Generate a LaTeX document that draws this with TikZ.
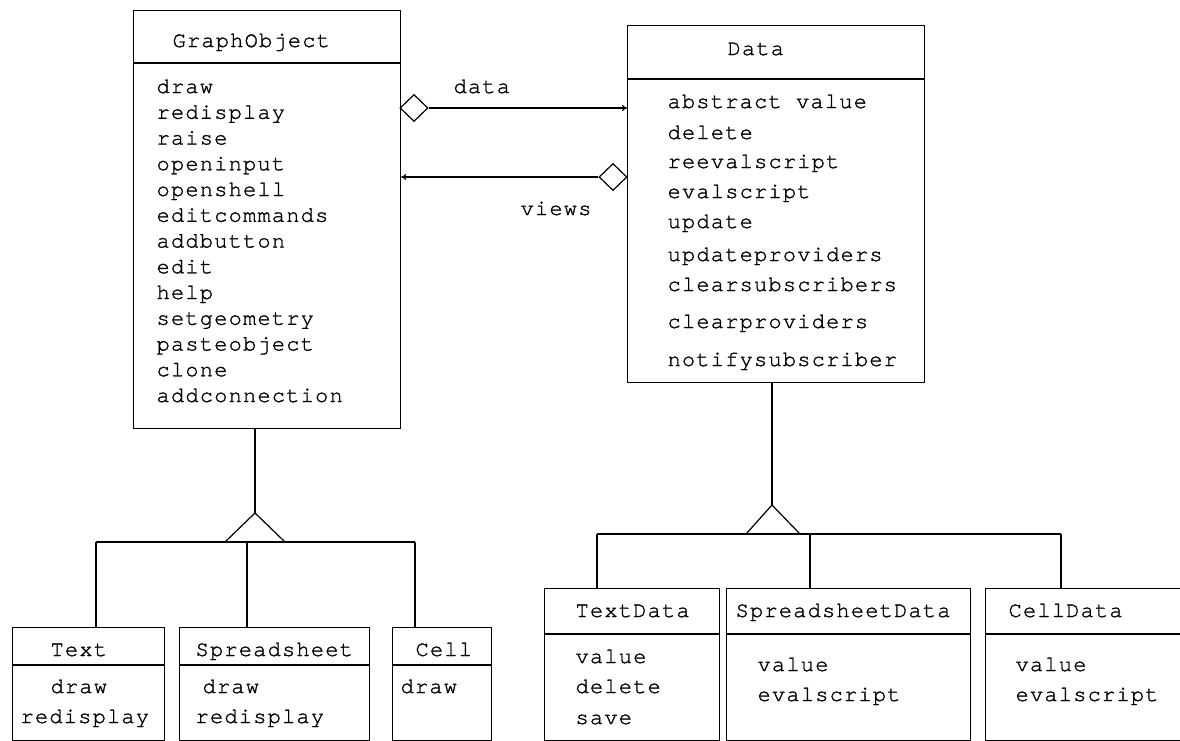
\documentclass[tikz,border=0pt]{standalone}
\usepackage{fontspec}
\usetikzlibrary{shapes.geometric,arrows.meta}
\newfontfamily\cour{texgyrecursor-regular.otf}[LetterSpace=5.5,FakeBold=1.2]
\newcommand\clsfont{\cour\fontsize{22}{26}\selectfont}
\begin{document}
\begin{tikzpicture}[x=1pt,y=-1pt,line width=1.2pt,
  txt/.style={anchor=base west,inner sep=0pt,font=\clsfont},
  cls/.style={draw,anchor=north west,inner sep=0pt},
  agg/.style={draw,shape=diamond,fill=white,inner sep=0pt,minimum width=28pt,minimum height=27pt},
  arr/.style={-{To[length=5pt,width=6pt]}}]
\useasboundingbox (0,0) rectangle (1180,740);
\clip (0,0) rectangle (1180,740);
% class boxes
\node[cls,minimum width=267pt,minimum height=418pt] (go) at (133,10) {};
\node[cls,minimum width=297pt,minimum height=357pt] (da) at (627,25) {};
\node[cls,minimum width=152pt,minimum height=113pt] (tx) at (12,627) {};
\node[cls,minimum width=190pt,minimum height=113pt] (ss) at (179,627) {};
\node[cls,minimum width=99pt,minimum height=113pt] (ce) at (392,627) {};
\node[cls,minimum width=175pt,minimum height=152pt] (td) at (544,588) {};
\node[cls,minimum width=244pt,minimum height=152pt] (sd) at (726,588) {};
\node[cls,minimum width=210pt,minimum height=152pt] (cd) at (985,588) {};
% header lines
\draw (go.west |- 0,63) -- (go.east |- 0,63);
\draw (da.west |- 0,79) -- (da.east |- 0,79);
\foreach \b in {tx,ss,ce} \draw (\b.west |- 0,665) -- (\b.east |- 0,665);
\foreach \b in {td,sd,cd} \draw (\b.west |- 0,634) -- (\b.east |- 0,634);
% titles
\node[txt] (got) at (172,47) {GraphObject};
\node[txt] (dat) at (727,55) {Data};
\node[txt] (txt) at (50,656) {Text};
\node[txt] (sst) at (195,656) {Spreadsheet};
\node[txt] (cet) at (415,656) {Cell};
\node[txt] (tdt) at (575,617) {TextData};
\node[txt] (sdt) at (735,617) {SpreadsheetData};
\node[txt] (cdt) at (1008,617) {CellData};
% GraphObject methods
\foreach \m [count=\i from 0] in {draw,redisplay,raise,openinput,openshell,editcommands,addbutton,edit,help,setgeometry,pasteobject,clone,addconnection}
  \node[txt] (gom\i) at (156,{93+25.75*\i}) {\m};
% Data methods
\foreach \m/\y [count=\i] in {abstract value/108,delete/139,reevalscript/168,evalscript/198,update/228,updateproviders/261,clearsubscribers/291,clearproviders/328,notifysubscriber/366}
  \node[txt] (dam\i) at (667,\y) {\m};
% subclass methods
\node[txt] (txm1) at (50,693) {draw};
\node[txt] (txm2) at (20,723) {redisplay};
\node[txt] (ssm1) at (202,693) {draw};
\node[txt] (ssm2) at (195,723) {redisplay};
\node[txt] (cem1) at (400,693) {draw};
\node[txt] (tdm1) at (575,663) {value};
\node[txt] (tdm2) at (575,693) {delete};
\node[txt] (tdm3) at (575,724) {save};
\node[txt] (sdm1) at (757,671) {value};
\node[txt] (sdm2) at (757,701) {evalscript};
\node[txt] (cdm1) at (1015,671) {value};
\node[txt] (cdm2) at (1015,701) {evalscript};
% associations
\node[agg] (d1) at (414,108) {};
\node[agg] (d2) at (613,177) {};
\draw[arr] (d1.east) -- (da.west |- d1.east);
\draw[arr] (d2.west) -- (go.east |- d2.west);
\node[txt] (lbdata) at (453,93) {data};
\node[txt] (lbviews) at (520,215) {views};
% generalization: GraphObject
\coordinate (ga) at (255,513);
\coordinate (gl) at (96,542);
\coordinate (gm) at (247,542);
\coordinate (gr) at (415,542);
\draw (ga |- go.south) -- (ga);
\draw (ga) -- (225,542) -- (285,542) -- cycle;
\draw (gl) -- (gr);
\draw (gl) -- (gl |- tx.north);
\draw (gm) -- (gm |- ss.north);
\draw (gr) -- (gr |- ce.north);
% generalization: Data
\coordinate (da0) at (772,505);
\coordinate (dl) at (597,534);
\coordinate (dm) at (810,534);
\coordinate (dr) at (1061,534);
\draw (da0 |- da.south) -- (da0);
\draw (da0) -- (746,534) -- (800,534) -- cycle;
\draw (dl) -- (dr);
\draw (dl) -- (dl |- td.north);
\draw (dm) -- (dm |- sd.north);
\draw (dr) -- (dr |- cd.north);
\end{tikzpicture}
\end{document}
